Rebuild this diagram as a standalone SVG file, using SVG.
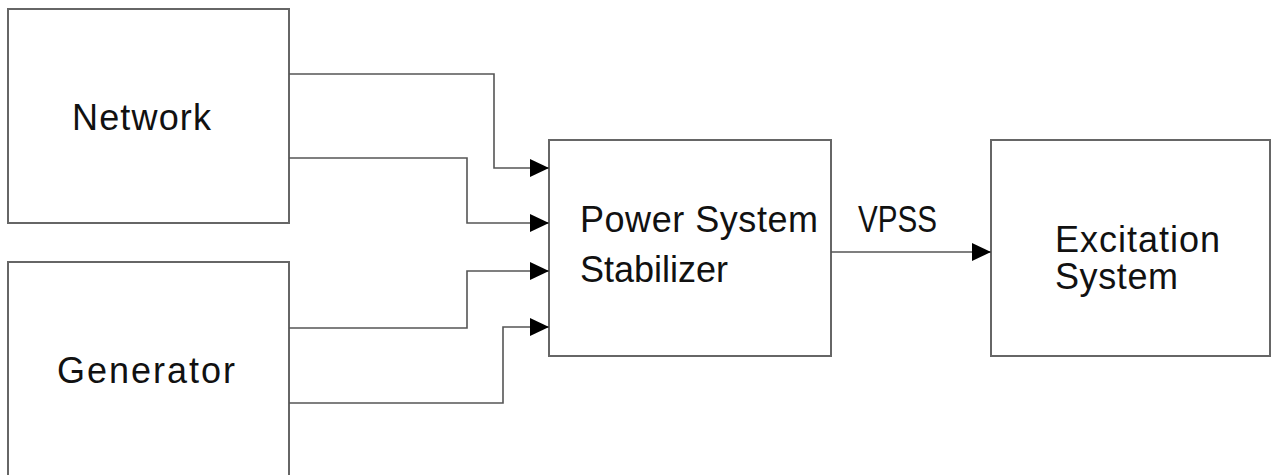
<svg xmlns="http://www.w3.org/2000/svg" width="1271" height="475" viewBox="0 0 1271 475">
<style>
.box{fill:#fff;stroke:#666;stroke-width:2}
.ln{fill:none;stroke:#555;stroke-width:1.6}
.t{font-family:"Liberation Sans",Arial,sans-serif;font-size:36px;fill:#111}
</style>
<defs>
<marker id="ah" markerUnits="userSpaceOnUse" markerWidth="19" markerHeight="18" refX="19" refY="9" orient="auto">
<path d="M0,0 L19,9 L0,18 Z" fill="#000"/>
</marker>
</defs>
<rect width="1271" height="475" fill="#fff"/>
<g id="network">
<rect class="box" x="8" y="9" width="281" height="214"/>
<text class="t" x="72" y="130" textLength="139" lengthAdjust="spacing">Network</text>
</g>
<g id="generator">
<path class="box" d="M8,480 V262 H289 V480"/>
<text class="t" x="57" y="383" textLength="178" lengthAdjust="spacing">Generator</text>
</g>
<g id="pss">
<rect class="box" x="549" y="140" width="282" height="216"/>
<text class="t" x="580" y="232" textLength="238" lengthAdjust="spacing">Power System</text>
<text class="t" x="580" y="282" textLength="148" lengthAdjust="spacing">Stabilizer</text>
</g>
<g id="excitation">
<rect class="box" x="991" y="140" width="279" height="216"/>
<text class="t" x="1055" y="252" textLength="165" lengthAdjust="spacing">Excitation</text>
<text class="t" x="1055" y="289" textLength="123" lengthAdjust="spacing">System</text>
</g>
<g id="connectors">
<path class="ln" d="M289,74 H494 V168 H549" marker-end="url(#ah)"/>
<path class="ln" d="M289,158 H467 V223 H549" marker-end="url(#ah)"/>
<path class="ln" d="M289,328 H467 V271 H549" marker-end="url(#ah)"/>
<path class="ln" d="M289,403 H503 V327 H549" marker-end="url(#ah)"/>
<path class="ln" d="M831,252 H991" marker-end="url(#ah)"/>
<text class="t" x="858" y="232" textLength="79" lengthAdjust="spacingAndGlyphs">VPSS</text>
</g>
</svg>
